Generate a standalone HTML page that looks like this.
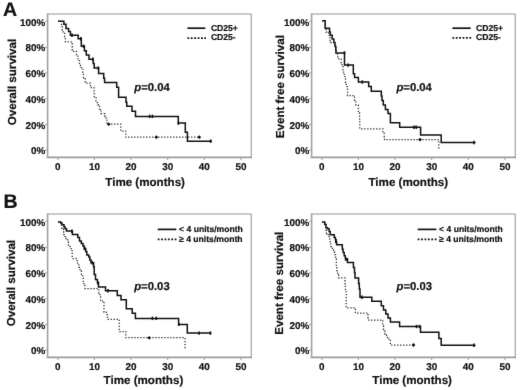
<!DOCTYPE html>
<html><head><meta charset="utf-8"><style>
html,body{margin:0;padding:0;background:#fff;width:520px;height:390px;overflow:hidden}
svg{display:block}
text{font-family:"Liberation Sans", sans-serif;fill:#111;stroke:#111;stroke-width:0.2px;text-rendering:geometricPrecision}
</style></head><body>
<svg width="520" height="390" viewBox="0 0 520 390">
<defs><filter id="soft" color-interpolation-filters="sRGB" x="0" y="0" width="520" height="390" filterUnits="userSpaceOnUse"><feConvolveMatrix order="3" kernelMatrix="0.0052 0.0619 0.0052 0.0619 0.7314 0.0619 0.0052 0.0619 0.0052" edgeMode="duplicate" preserveAlpha="true"/></filter></defs>
<rect width="520" height="390" fill="#fff"/>
<g filter="url(#soft)">
<rect width="520" height="390" fill="#fff"/>
<line x1="47.6" y1="14.0" x2="251.3" y2="14.0" stroke="#b9b9b9" stroke-width="1.5"/>
<line x1="251.3" y1="14.0" x2="251.3" y2="157.4" stroke="#b3b3b3" stroke-width="1.5"/>
<line x1="47.6" y1="13.3" x2="47.6" y2="158.20000000000002" stroke="#a2a2a2" stroke-width="1.6"/>
<line x1="46.800000000000004" y1="157.4" x2="252.0" y2="157.4" stroke="#9c9c9c" stroke-width="1.6"/>
<line x1="45.2" y1="21.4" x2="47.6" y2="21.4" stroke="#a0a0a0" stroke-width="1.1"/>
<text x="45.3" y="25.6" text-anchor="end" font-size="9.9" font-weight="bold">100%</text>
<line x1="45.2" y1="47.2" x2="47.6" y2="47.2" stroke="#a0a0a0" stroke-width="1.1"/>
<text x="45.3" y="51.4" text-anchor="end" font-size="9.9" font-weight="bold">80%</text>
<line x1="45.2" y1="72.9" x2="47.6" y2="72.9" stroke="#a0a0a0" stroke-width="1.1"/>
<text x="45.3" y="77.1" text-anchor="end" font-size="9.9" font-weight="bold">60%</text>
<line x1="45.2" y1="98.7" x2="47.6" y2="98.7" stroke="#a0a0a0" stroke-width="1.1"/>
<text x="45.3" y="102.9" text-anchor="end" font-size="9.9" font-weight="bold">40%</text>
<line x1="45.2" y1="124.4" x2="47.6" y2="124.4" stroke="#a0a0a0" stroke-width="1.1"/>
<text x="45.3" y="128.6" text-anchor="end" font-size="9.9" font-weight="bold">20%</text>
<line x1="45.2" y1="150.2" x2="47.6" y2="150.2" stroke="#a0a0a0" stroke-width="1.1"/>
<text x="45.3" y="154.4" text-anchor="end" font-size="9.9" font-weight="bold">0%</text>
<line x1="57.8" y1="157.4" x2="57.8" y2="160.0" stroke="#a0a0a0" stroke-width="1.1"/>
<text x="57.8" y="170.1" text-anchor="middle" font-size="9.9" font-weight="bold">0</text>
<line x1="94.4" y1="157.4" x2="94.4" y2="160.0" stroke="#a0a0a0" stroke-width="1.1"/>
<text x="94.4" y="170.1" text-anchor="middle" font-size="9.9" font-weight="bold">10</text>
<line x1="131.0" y1="157.4" x2="131.0" y2="160.0" stroke="#a0a0a0" stroke-width="1.1"/>
<text x="131.0" y="170.1" text-anchor="middle" font-size="9.9" font-weight="bold">20</text>
<line x1="167.7" y1="157.4" x2="167.7" y2="160.0" stroke="#a0a0a0" stroke-width="1.1"/>
<text x="167.7" y="170.1" text-anchor="middle" font-size="9.9" font-weight="bold">30</text>
<line x1="204.3" y1="157.4" x2="204.3" y2="160.0" stroke="#a0a0a0" stroke-width="1.1"/>
<text x="204.3" y="170.1" text-anchor="middle" font-size="9.9" font-weight="bold">40</text>
<line x1="240.9" y1="157.4" x2="240.9" y2="160.0" stroke="#a0a0a0" stroke-width="1.1"/>
<text x="240.9" y="170.1" text-anchor="middle" font-size="9.9" font-weight="bold">50</text>
<text x="105.3" y="185.5" font-size="11.6" font-weight="bold">Time (months)</text>
<text transform="translate(15.6,125.2) rotate(-90)" x="0" y="0" font-size="11.6" font-weight="bold">Overall survival</text>
<line x1="187.4" y1="28.2" x2="205.3" y2="28.2" stroke="#111" stroke-width="1.7"/>
<line x1="187.4" y1="38.1" x2="206.0" y2="38.1" stroke="#111" stroke-width="1.9" stroke-dasharray="1.8 1.6"/>
<text x="210.9" y="30.5" font-size="8.6" font-weight="bold">CD25+</text>
<text x="210.9" y="40.4" font-size="8.6" font-weight="bold">CD25-</text>
<text x="134.3" y="91.0" font-size="11.3" font-weight="bold"><tspan font-style="italic">p</tspan>=0.04</text>
<line x1="311.6" y1="14.0" x2="515.3" y2="14.0" stroke="#b9b9b9" stroke-width="1.5"/>
<line x1="515.3" y1="14.0" x2="515.3" y2="157.4" stroke="#b3b3b3" stroke-width="1.5"/>
<line x1="311.6" y1="13.3" x2="311.6" y2="158.20000000000002" stroke="#a2a2a2" stroke-width="1.6"/>
<line x1="310.8" y1="157.4" x2="516.0" y2="157.4" stroke="#9c9c9c" stroke-width="1.6"/>
<line x1="309.20000000000005" y1="21.4" x2="311.6" y2="21.4" stroke="#a0a0a0" stroke-width="1.1"/>
<text x="309.3" y="25.6" text-anchor="end" font-size="9.9" font-weight="bold">100%</text>
<line x1="309.20000000000005" y1="47.2" x2="311.6" y2="47.2" stroke="#a0a0a0" stroke-width="1.1"/>
<text x="309.3" y="51.4" text-anchor="end" font-size="9.9" font-weight="bold">80%</text>
<line x1="309.20000000000005" y1="72.9" x2="311.6" y2="72.9" stroke="#a0a0a0" stroke-width="1.1"/>
<text x="309.3" y="77.1" text-anchor="end" font-size="9.9" font-weight="bold">60%</text>
<line x1="309.20000000000005" y1="98.7" x2="311.6" y2="98.7" stroke="#a0a0a0" stroke-width="1.1"/>
<text x="309.3" y="102.9" text-anchor="end" font-size="9.9" font-weight="bold">40%</text>
<line x1="309.20000000000005" y1="124.4" x2="311.6" y2="124.4" stroke="#a0a0a0" stroke-width="1.1"/>
<text x="309.3" y="128.6" text-anchor="end" font-size="9.9" font-weight="bold">20%</text>
<line x1="309.20000000000005" y1="150.2" x2="311.6" y2="150.2" stroke="#a0a0a0" stroke-width="1.1"/>
<text x="309.3" y="154.4" text-anchor="end" font-size="9.9" font-weight="bold">0%</text>
<line x1="321.8" y1="157.4" x2="321.8" y2="160.0" stroke="#a0a0a0" stroke-width="1.1"/>
<text x="321.8" y="170.1" text-anchor="middle" font-size="9.9" font-weight="bold">0</text>
<line x1="358.4" y1="157.4" x2="358.4" y2="160.0" stroke="#a0a0a0" stroke-width="1.1"/>
<text x="358.4" y="170.1" text-anchor="middle" font-size="9.9" font-weight="bold">10</text>
<line x1="395.0" y1="157.4" x2="395.0" y2="160.0" stroke="#a0a0a0" stroke-width="1.1"/>
<text x="395.0" y="170.1" text-anchor="middle" font-size="9.9" font-weight="bold">20</text>
<line x1="431.7" y1="157.4" x2="431.7" y2="160.0" stroke="#a0a0a0" stroke-width="1.1"/>
<text x="431.7" y="170.1" text-anchor="middle" font-size="9.9" font-weight="bold">30</text>
<line x1="468.3" y1="157.4" x2="468.3" y2="160.0" stroke="#a0a0a0" stroke-width="1.1"/>
<text x="468.3" y="170.1" text-anchor="middle" font-size="9.9" font-weight="bold">40</text>
<line x1="504.9" y1="157.4" x2="504.9" y2="160.0" stroke="#a0a0a0" stroke-width="1.1"/>
<text x="504.9" y="170.1" text-anchor="middle" font-size="9.9" font-weight="bold">50</text>
<text x="368.5" y="185.5" font-size="11.6" font-weight="bold">Time (months)</text>
<text transform="translate(283.5,138.2) rotate(-90)" x="0" y="0" font-size="11.6" font-weight="bold">Event free survival</text>
<line x1="452.4" y1="28.2" x2="470.7" y2="28.2" stroke="#111" stroke-width="1.7"/>
<line x1="452.4" y1="37.9" x2="471.4" y2="37.9" stroke="#111" stroke-width="1.9" stroke-dasharray="1.8 1.6"/>
<text x="476.1" y="30.5" font-size="8.6" font-weight="bold">CD25+</text>
<text x="476.1" y="40.199999999999996" font-size="8.6" font-weight="bold">CD25-</text>
<text x="396.4" y="91.0" font-size="11.3" font-weight="bold"><tspan font-style="italic">p</tspan>=0.04</text>
<line x1="47.6" y1="214.0" x2="251.3" y2="214.0" stroke="#b9b9b9" stroke-width="1.5"/>
<line x1="251.3" y1="214.0" x2="251.3" y2="357.4" stroke="#b3b3b3" stroke-width="1.5"/>
<line x1="47.6" y1="213.3" x2="47.6" y2="358.2" stroke="#a2a2a2" stroke-width="1.6"/>
<line x1="46.800000000000004" y1="357.4" x2="252.0" y2="357.4" stroke="#9c9c9c" stroke-width="1.6"/>
<line x1="45.2" y1="221.4" x2="47.6" y2="221.4" stroke="#a0a0a0" stroke-width="1.1"/>
<text x="45.3" y="225.6" text-anchor="end" font-size="9.9" font-weight="bold">100%</text>
<line x1="45.2" y1="247.2" x2="47.6" y2="247.2" stroke="#a0a0a0" stroke-width="1.1"/>
<text x="45.3" y="251.4" text-anchor="end" font-size="9.9" font-weight="bold">80%</text>
<line x1="45.2" y1="272.9" x2="47.6" y2="272.9" stroke="#a0a0a0" stroke-width="1.1"/>
<text x="45.3" y="277.1" text-anchor="end" font-size="9.9" font-weight="bold">60%</text>
<line x1="45.2" y1="298.7" x2="47.6" y2="298.7" stroke="#a0a0a0" stroke-width="1.1"/>
<text x="45.3" y="302.9" text-anchor="end" font-size="9.9" font-weight="bold">40%</text>
<line x1="45.2" y1="324.4" x2="47.6" y2="324.4" stroke="#a0a0a0" stroke-width="1.1"/>
<text x="45.3" y="328.6" text-anchor="end" font-size="9.9" font-weight="bold">20%</text>
<line x1="45.2" y1="350.2" x2="47.6" y2="350.2" stroke="#a0a0a0" stroke-width="1.1"/>
<text x="45.3" y="354.4" text-anchor="end" font-size="9.9" font-weight="bold">0%</text>
<line x1="57.8" y1="357.4" x2="57.8" y2="360.0" stroke="#a0a0a0" stroke-width="1.1"/>
<text x="57.8" y="369.6" text-anchor="middle" font-size="9.9" font-weight="bold">0</text>
<line x1="94.4" y1="357.4" x2="94.4" y2="360.0" stroke="#a0a0a0" stroke-width="1.1"/>
<text x="94.4" y="369.6" text-anchor="middle" font-size="9.9" font-weight="bold">10</text>
<line x1="131.0" y1="357.4" x2="131.0" y2="360.0" stroke="#a0a0a0" stroke-width="1.1"/>
<text x="131.0" y="369.6" text-anchor="middle" font-size="9.9" font-weight="bold">20</text>
<line x1="167.7" y1="357.4" x2="167.7" y2="360.0" stroke="#a0a0a0" stroke-width="1.1"/>
<text x="167.7" y="369.6" text-anchor="middle" font-size="9.9" font-weight="bold">30</text>
<line x1="204.3" y1="357.4" x2="204.3" y2="360.0" stroke="#a0a0a0" stroke-width="1.1"/>
<text x="204.3" y="369.6" text-anchor="middle" font-size="9.9" font-weight="bold">40</text>
<line x1="240.9" y1="357.4" x2="240.9" y2="360.0" stroke="#a0a0a0" stroke-width="1.1"/>
<text x="240.9" y="369.6" text-anchor="middle" font-size="9.9" font-weight="bold">50</text>
<text x="103.6" y="384.2" font-size="11.6" font-weight="bold">Time (months)</text>
<text transform="translate(15.1,326.3) rotate(-90)" x="0" y="0" font-size="11.6" font-weight="bold">Overall survival</text>
<line x1="157.7" y1="229.4" x2="176.3" y2="229.4" stroke="#111" stroke-width="1.7"/>
<line x1="157.7" y1="239.4" x2="177.0" y2="239.4" stroke="#111" stroke-width="1.9" stroke-dasharray="1.8 1.6"/>
<text x="179.1" y="231.70000000000002" font-size="8.6" font-weight="bold">&lt; 4 units/month</text>
<text x="179.1" y="241.70000000000002" font-size="8.6" font-weight="bold">&#8805; 4 units/month</text>
<text x="134.2" y="290.3" font-size="11.3" font-weight="bold"><tspan font-style="italic">p</tspan>=0.03</text>
<line x1="311.6" y1="214.0" x2="515.3" y2="214.0" stroke="#b9b9b9" stroke-width="1.5"/>
<line x1="515.3" y1="214.0" x2="515.3" y2="357.4" stroke="#b3b3b3" stroke-width="1.5"/>
<line x1="311.6" y1="213.3" x2="311.6" y2="358.2" stroke="#a2a2a2" stroke-width="1.6"/>
<line x1="310.8" y1="357.4" x2="516.0" y2="357.4" stroke="#9c9c9c" stroke-width="1.6"/>
<line x1="309.20000000000005" y1="221.4" x2="311.6" y2="221.4" stroke="#a0a0a0" stroke-width="1.1"/>
<text x="309.3" y="225.6" text-anchor="end" font-size="9.9" font-weight="bold">100%</text>
<line x1="309.20000000000005" y1="247.2" x2="311.6" y2="247.2" stroke="#a0a0a0" stroke-width="1.1"/>
<text x="309.3" y="251.4" text-anchor="end" font-size="9.9" font-weight="bold">80%</text>
<line x1="309.20000000000005" y1="272.9" x2="311.6" y2="272.9" stroke="#a0a0a0" stroke-width="1.1"/>
<text x="309.3" y="277.1" text-anchor="end" font-size="9.9" font-weight="bold">60%</text>
<line x1="309.20000000000005" y1="298.7" x2="311.6" y2="298.7" stroke="#a0a0a0" stroke-width="1.1"/>
<text x="309.3" y="302.9" text-anchor="end" font-size="9.9" font-weight="bold">40%</text>
<line x1="309.20000000000005" y1="324.4" x2="311.6" y2="324.4" stroke="#a0a0a0" stroke-width="1.1"/>
<text x="309.3" y="328.6" text-anchor="end" font-size="9.9" font-weight="bold">20%</text>
<line x1="309.20000000000005" y1="350.2" x2="311.6" y2="350.2" stroke="#a0a0a0" stroke-width="1.1"/>
<text x="309.3" y="354.4" text-anchor="end" font-size="9.9" font-weight="bold">0%</text>
<line x1="321.8" y1="357.4" x2="321.8" y2="360.0" stroke="#a0a0a0" stroke-width="1.1"/>
<text x="321.8" y="369.6" text-anchor="middle" font-size="9.9" font-weight="bold">0</text>
<line x1="358.4" y1="357.4" x2="358.4" y2="360.0" stroke="#a0a0a0" stroke-width="1.1"/>
<text x="358.4" y="369.6" text-anchor="middle" font-size="9.9" font-weight="bold">10</text>
<line x1="395.0" y1="357.4" x2="395.0" y2="360.0" stroke="#a0a0a0" stroke-width="1.1"/>
<text x="395.0" y="369.6" text-anchor="middle" font-size="9.9" font-weight="bold">20</text>
<line x1="431.7" y1="357.4" x2="431.7" y2="360.0" stroke="#a0a0a0" stroke-width="1.1"/>
<text x="431.7" y="369.6" text-anchor="middle" font-size="9.9" font-weight="bold">30</text>
<line x1="468.3" y1="357.4" x2="468.3" y2="360.0" stroke="#a0a0a0" stroke-width="1.1"/>
<text x="468.3" y="369.6" text-anchor="middle" font-size="9.9" font-weight="bold">40</text>
<line x1="504.9" y1="357.4" x2="504.9" y2="360.0" stroke="#a0a0a0" stroke-width="1.1"/>
<text x="504.9" y="369.6" text-anchor="middle" font-size="9.9" font-weight="bold">50</text>
<text x="372.3" y="384.2" font-size="11.6" font-weight="bold">Time (months)</text>
<text transform="translate(283.3,334.8) rotate(-90)" x="0" y="0" font-size="11.6" font-weight="bold">Event free survival</text>
<line x1="417.7" y1="229.4" x2="436.3" y2="229.4" stroke="#111" stroke-width="1.7"/>
<line x1="417.7" y1="239.4" x2="437.0" y2="239.4" stroke="#111" stroke-width="1.9" stroke-dasharray="1.8 1.6"/>
<text x="439.1" y="231.70000000000002" font-size="8.6" font-weight="bold">&lt; 4 units/month</text>
<text x="439.1" y="241.70000000000002" font-size="8.6" font-weight="bold">&#8805; 4 units/month</text>
<text x="396.5" y="290.3" font-size="11.3" font-weight="bold"><tspan font-style="italic">p</tspan>=0.03</text>
<path d="M58.1 21.2H63.9V24.3H66.0V28.5H68.6V31.6H70.4V35.2H78.2V38.8H81.3V46.2H84.4V50.8H86.3V55.1H89.0V59.2H93.2V63.5H94.2V68.1H98.6V73.4H103.7V78.2H104.6V82.6H116.7V87.2H118.6V97.2H126.0V102.2H126.8V106.2H132.0V111.2H135.5V116.4H178.3V122.9H185.3V132.2H187.4V141.2H212.0" fill="none" stroke="#111" stroke-width="1.5"/><line x1="72.0" y1="33.5" x2="72.0" y2="36.9" stroke="#111" stroke-width="1.6"/><line x1="80.8" y1="37.1" x2="80.8" y2="40.5" stroke="#111" stroke-width="1.6"/><line x1="83.6" y1="44.5" x2="83.6" y2="47.9" stroke="#111" stroke-width="1.6"/><line x1="92.8" y1="57.5" x2="92.8" y2="60.9" stroke="#111" stroke-width="1.6"/><line x1="98.3" y1="66.4" x2="98.3" y2="69.8" stroke="#111" stroke-width="1.6"/><line x1="149.6" y1="114.7" x2="149.6" y2="118.1" stroke="#111" stroke-width="1.6"/><line x1="152.4" y1="114.7" x2="152.4" y2="118.1" stroke="#111" stroke-width="1.6"/><line x1="178.4" y1="121.5" x2="178.4" y2="124.9" stroke="#111" stroke-width="1.6"/><line x1="210.6" y1="139.5" x2="210.6" y2="142.9" stroke="#111" stroke-width="1.6"/>
<path d="M58.1 21.2H61.6V25.5H62.2V31.8H64.6V36.5H65.4V41.8H72.2V51.3H76.4V56.0H78.0V60.6H79.5V65.0H80.4V67.7H82.8V72.2H83.5V77.8H85.2V83.0H90.4V87.6H94.0V92.0H94.3V97.5H96.0V102.5H98.2V105.0H99.5V109.0H101.0V113.5H105.0V116.5H106.0V120.0H106.9V124.2H120.8V131.0H125.8V137.2H199.3" fill="none" stroke="#2a2a2a" stroke-width="1.25" stroke-dasharray="1.3 1.7"/><path d="M106.80 124.20L108.70 122.30L110.60 124.20L108.70 126.10Z" fill="#111"/><path d="M154.40 137.20L156.30 135.30L158.20 137.20L156.30 139.10Z" fill="#111"/><path d="M197.40 137.20L199.30 135.30L201.20 137.20L199.30 139.10Z" fill="#111"/>
<path d="M322.2 20.8H325.2V28.3H329.5V32.0H330.3V35.3H332.2V39.0H333.8V42.4H335.0V46.5H335.8V50.0H336.0V52.9H344.5V65.1H353.3V73.7H354.6V77.6H358.4V82.0H368.7V86.5H371.3V91.2H381.3V96.0H382.0V100.4H383.3V105.0H385.4V109.6H388.0V113.5H390.4V122.7H399.7V127.2H420.6V135.0H441.2V142.5H475.5" fill="none" stroke="#111" stroke-width="1.5"/><line x1="344.5" y1="51.2" x2="344.5" y2="54.6" stroke="#111" stroke-width="1.6"/><line x1="348.2" y1="63.4" x2="348.2" y2="66.8" stroke="#111" stroke-width="1.6"/><line x1="362.3" y1="80.3" x2="362.3" y2="83.7" stroke="#111" stroke-width="1.6"/><line x1="414.0" y1="125.5" x2="414.0" y2="128.9" stroke="#111" stroke-width="1.6"/><line x1="416.3" y1="125.5" x2="416.3" y2="128.9" stroke="#111" stroke-width="1.6"/><line x1="474.0" y1="140.8" x2="474.0" y2="144.2" stroke="#111" stroke-width="1.6"/>
<path d="M322.2 20.8H325.2V28.3H326.1V32.0H328.6V35.3H329.2V37.8H330.2V40.8H330.7V42.6H335.0V46.5H335.8V50.0H336.2V53.0H337.5V56.0H337.8V58.8H341.2V62.8H342.0V66.7H343.0V70.5H343.5V74.4H345.0V78.2H345.5V82.7H346.3V86.5H347.5V95.5H354.5V100.4H355.8V105.0H358.3V112.7H359.6V121.9H359.8V128.8H383.0V132.7H384.2V136.5H384.5V139.6H438.8V149.6" fill="none" stroke="#2a2a2a" stroke-width="1.25" stroke-dasharray="1.3 1.7"/><path d="M418.10 139.60L420.00 137.70L421.90 139.60L420.00 141.50Z" fill="#111"/>
<path d="M58.1 221.9H60.8V223.0H62.0V224.8H64.0V227.0H65.1V228.8H66.5V231.0H72.4V234.4H77.8V237.5H79.5V241.0H81.3V243.4H83.0V246.0H84.2V248.5H85.7V251.6H86.8V255.0H88.8V257.0H89.8V260.1H91.0V262.8H93.6V266.7H94.2V274.4H95.5V279.5H97.4V282.8H98.5V287.0H105.5V290.7H117.3V295.5H121.0V299.8H126.3V308.8H132.2V313.3H135.4V318.4H178.6V324.4H187.3V333.1H211.5" fill="none" stroke="#111" stroke-width="1.5"/><line x1="71.9" y1="229.6" x2="71.9" y2="233.0" stroke="#111" stroke-width="1.6"/><line x1="84.6" y1="246.8" x2="84.6" y2="250.2" stroke="#111" stroke-width="1.6"/><line x1="92.2" y1="261.1" x2="92.2" y2="264.5" stroke="#111" stroke-width="1.6"/><line x1="97.8" y1="281.1" x2="97.8" y2="284.5" stroke="#111" stroke-width="1.6"/><line x1="108.0" y1="289.0" x2="108.0" y2="292.4" stroke="#111" stroke-width="1.6"/><line x1="152.4" y1="316.7" x2="152.4" y2="320.1" stroke="#111" stroke-width="1.6"/><line x1="156.2" y1="316.7" x2="156.2" y2="320.1" stroke="#111" stroke-width="1.6"/><line x1="178.9" y1="322.7" x2="178.9" y2="326.1" stroke="#111" stroke-width="1.6"/><line x1="199.1" y1="331.4" x2="199.1" y2="334.8" stroke="#111" stroke-width="1.6"/><line x1="210.3" y1="331.4" x2="210.3" y2="334.8" stroke="#111" stroke-width="1.6"/>
<path d="M58.1 221.9H60.8V223.0H61.5V228.0H63.4V231.5H63.6V234.5H65.1V236.5H66.2V239.0H67.8V241.5H68.4V245.0H70.0V248.5H72.1V252.3H72.2V258.5H76.3V260.5H77.5V264.1H78.8V267.3H80.1V270.5H81.4V274.4H82.7V277.6H83.3V281.4H83.9V284.6H85.0V288.6H98.8V293.0H100.0V296.8H100.6V301.0H104.0V312.0H106.3V314.5H107.5V319.4H119.2V331.6H125.8V337.7H185.0V349.6" fill="none" stroke="#2a2a2a" stroke-width="1.25" stroke-dasharray="1.3 1.7"/><path d="M147.30 337.80L149.20 335.90L151.10 337.80L149.20 339.70Z" fill="#111"/>
<path d="M322.1 222.0H324.8V224.5H326.0V227.7H327.5V228.8H329.1V231.5H330.2V234.7H334.2V237.4H335.4V239.8H336.1V242.2H336.7V244.8H342.3V249.2H343.1V252.4H344.2V255.7H345.3V258.8H347.5V262.4H353.4V267.6H354.5V272.7H355.0V278.0H358.6V283.6H359.3V289.0H360.0V297.3H371.8V301.3H381.3V305.8H383.5V310.0H385.8V314.0H388.0V318.1H390.4V321.9H399.6V326.5H420.5V332.2H438.9V338.6H441.2V345.3H475.5" fill="none" stroke="#111" stroke-width="1.5"/><line x1="335.8" y1="239.8" x2="335.8" y2="243.2" stroke="#111" stroke-width="1.6"/><line x1="346.0" y1="257.5" x2="346.0" y2="260.9" stroke="#111" stroke-width="1.6"/><line x1="362.0" y1="295.6" x2="362.0" y2="299.0" stroke="#111" stroke-width="1.6"/><line x1="416.5" y1="324.8" x2="416.5" y2="328.2" stroke="#111" stroke-width="1.6"/><line x1="419.6" y1="324.8" x2="419.6" y2="328.2" stroke="#111" stroke-width="1.6"/><line x1="474.0" y1="343.6" x2="474.0" y2="347.0" stroke="#111" stroke-width="1.6"/>
<path d="M322.1 222.0H324.8V224.5H326.0V227.7H326.0V230.4H326.5V233.5H328.1V234.5H329.1V237.9H329.7V240.6H330.2V243.8H330.8V246.5H332.4V249.2H333.5V251.9H334.5V254.6H335.6V257.8H335.7V259.2H336.3V266.9H337.0V270.8H337.6V274.6H338.6V277.8H345.0V284.9H345.4V290.4H346.2V298.1H346.2V307.8H355.4V313.0H368.0V320.0H382.8V325.8H383.5V331.2H385.0V334.2H386.5V337.3H388.8V339.6H390.4V345.0H413.5" fill="none" stroke="#2a2a2a" stroke-width="1.25" stroke-dasharray="1.3 1.7"/><path d="M411.60 345.00L413.50 343.10L415.40 345.00L413.50 346.90Z" fill="#111"/>
<text x="2.9" y="15.6" font-size="19.6" font-weight="bold">A</text>
<text x="3.6" y="207.5" font-size="19.6" font-weight="bold">B</text>
</g>
</svg>
</body></html>
